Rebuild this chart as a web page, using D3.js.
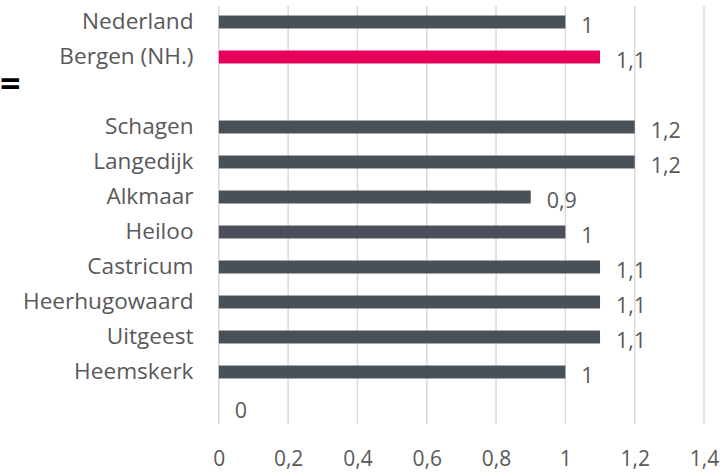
<!DOCTYPE html>
<html>
<head>
  <meta charset="utf-8">
  <title>Bergen (NH.)</title>
  <script src="https://cdn.jsdelivr.net/npm/d3@7"></script>
  <style>
    body { margin: 0; background: #fff; }
    text { font-family: "Open Sans", sans-serif; }
  </style>
</head>
<body>
  <svg id="chart" width="723" height="472"></svg>
  <script>
    // rows top to bottom; "gap" = empty row, "zero" = unnamed row with value 0
    var categories = ["Nederland", "Bergen (NH.)", "gap", "Schagen", "Langedijk", "Alkmaar", "Heiloo",
      "Castricum", "Heerhugowaard", "Uitgeest", "Heemskerk", "zero"];
    var values = [1, 1.1, null, 1.2, 1.2, 0.9, 1, 1.1, 1.1, 1.1, 1, 0];
    var highlight = ["Bergen (NH.)"];
    var ticks = [0, 0.2, 0.4, 0.6, 0.8, 1, 1.2, 1.4];

    var svg = d3.select('#chart');
    var x = d3.scaleLinear().domain([0, 1.4]).range([218.8, 704]);
    var y = d3.scaleBand().domain(categories).range([4.5, 424.5]).paddingInner(0.63).paddingOuter(0.315);
    var fmt = function(v) { return String(v).replace('.', ','); };

    // gridlines
    svg.append('g').selectAll('line').data(ticks).enter().append('line')
      .attr('x1', function(d) { return x(d); }).attr('x2', function(d) { return x(d); })
      .attr('y1', 6).attr('y2', 424)
      .attr('stroke', '#d9d9d9').attr('stroke-width', 1.5);

    // x axis labels
    var xAxis = svg.append('g').attr('transform', 'translate(0,459)')
      .call(d3.axisBottom(x).tickValues(ticks).tickSize(0).tickFormat(fmt));
    xAxis.select('.domain').remove();
    xAxis.selectAll('text').attr('fill', '#595959').attr('font-size', 21)
      .attr('dy', '0.35em').attr('y', 0).style('font-family', '"Open Sans", sans-serif');

    // category labels
    var yAxis = svg.append('g').attr('transform', 'translate(193.5,0)')
      .call(d3.axisLeft(y).tickSize(0).tickFormat(function(d) {
        return (d === 'gap' || d === 'zero') ? '' : d;
      }));
    yAxis.select('.domain').remove();
    yAxis.selectAll('text').attr('fill', '#595959').attr('font-size', 22.6).attr('x', 0)
      .style('font-family', '"Open Sans", sans-serif');

    var rows = categories.map(function(c, i) { return { name: c, value: values[i] }; })
      .filter(function(d) { return d.value !== null; });

    // bars
    svg.append('g').selectAll('rect').data(rows).enter().append('rect')
      .attr('x', x(0))
      .attr('y', function(d) { return y(d.name); })
      .attr('height', y.bandwidth())
      .attr('width', function(d) { return x(d.value) - x(0); })
      .attr('fill', function(d) { return highlight.indexOf(d.name) >= 0 ? '#e6005a' : '#495057'; });

    // value labels
    svg.append('g').selectAll('text').data(rows).enter().append('text')
      .attr('x', function(d) { return x(d.value) + 16; })
      .attr('y', function(d) { return y(d.name) + y.bandwidth() / 2 + 3; })
      .attr('dy', '0.35em')
      .attr('fill', '#595959').attr('font-size', 21.5)
      .text(function(d) { return fmt(d.value); });

    // stray marker at left
    svg.append('text').attr('x', 0).attr('y', 96).attr('font-size', 36).attr('font-weight', 'bold')
      .attr('fill', '#000').text('=');
  </script>
</body>
</html>
